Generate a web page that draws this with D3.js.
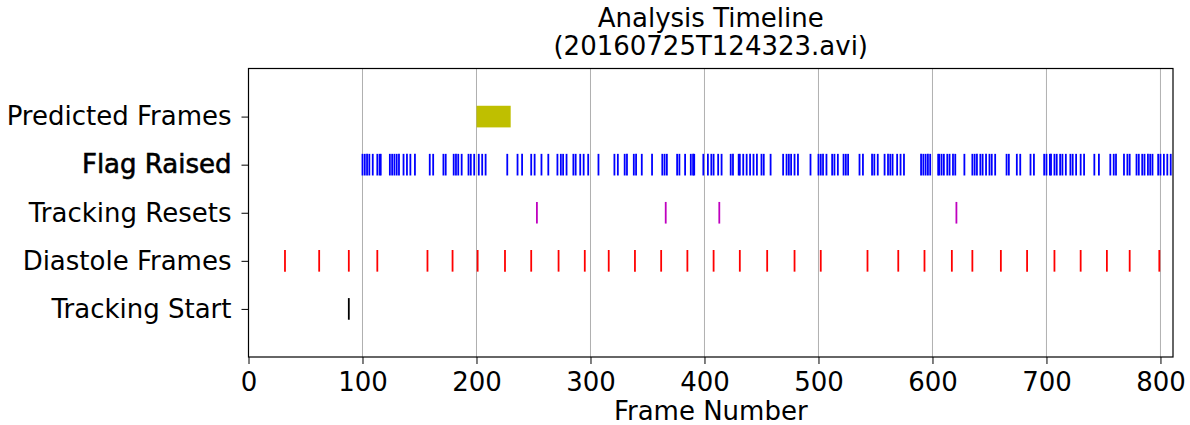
<!DOCTYPE html>
<html>
<head>
<meta charset="utf-8">
<script src="https://cdn.jsdelivr.net/npm/d3@7"></script>
<style>
  body { margin: 0; background: #fff; }
  text { font-family: "DejaVu Sans", sans-serif; fill: #000; }
</style>
</head>
<body>
<div id="chart"></div>
<script>
// row names, top to bottom
const rows = ["Predicted Frames", "Flag Raised", "Tracking Resets", "Diastole Frames", "Tracking Start"];

// event frames per row
const predictedRange = [200, 230];
const flagRaised = [100, 102, 104, 106, 109, 113, 115, 116, 124, 126, 128, 130, 132, 136, 139, 142, 146,
  159, 162, 171, 173, 180, 182, 184, 187, 193, 195, 198, 202, 205, 208, 227, 236, 240, 248, 251,
  257, 263, 271, 274, 276, 279, 285, 287, 291, 294, 298, 307, 321, 324, 330, 332, 338, 340, 345,
  354, 363, 365, 367, 376, 378, 383, 388, 390, 391, 399, 403, 406, 408, 412, 415, 423, 425, 430,
  431, 434, 437, 440, 443, 446, 450, 452, 458, 469, 472, 474, 476, 479, 482, 493, 500, 502, 504,
  507, 512, 514, 517, 522, 524, 526, 536, 539, 547, 549, 552, 558, 561, 563, 565, 569, 572, 575,
  590, 592, 594, 596, 598, 605, 606, 608, 610, 613, 615, 618, 620, 628, 635, 637, 639, 642, 644,
  647, 650, 652, 655, 665, 667, 674, 677, 686, 689, 698, 700, 703, 704, 707, 709, 712, 714, 717,
  721, 723, 726, 730, 733, 742, 746, 756, 759, 761, 768, 771, 773, 779, 781, 784, 786, 789, 791,
  793, 798, 800, 803, 806, 809];
const trackingResets = [253, 366, 413, 621];
const diastoleFrames = [32, 62, 88, 113, 157, 179, 201, 225, 248, 272, 295, 316, 339, 362, 385, 408,
  431, 455, 479, 502, 543, 570, 593, 617, 635, 660, 683, 707, 730, 753, 773, 799];
const trackingStart = [88];

const xTicks = [0, 100, 200, 300, 400, 500, 600, 700, 800];
const xMax = 811;

const width = 1190, height = 425;
const margin = { top: 68.5, right: 17, bottom: 68, left: 248.5 };
const fontSize = "26px";

const svg = d3.select("#chart").append("svg")
  .attr("width", width)
  .attr("height", height);

const x = d3.scaleLinear()
  .domain([0, xMax])
  .range([margin.left, width - margin.right]);

// rows sit at 1..5, axis runs 0..6
const y = d3.scaleLinear()
  .domain([0, rows.length + 1])
  .range([margin.top, height - margin.bottom]);

const rowY = name => y(rows.indexOf(name) + 1);
const halfLen = (y(0.45) - y(0)) / 2;

// gridlines
svg.append("g")
  .selectAll("line")
  .data(xTicks.filter(d => d > 0))
  .join("line")
  .attr("x1", d => x(d)).attr("x2", d => x(d))
  .attr("y1", margin.top).attr("y2", height - margin.bottom)
  .attr("stroke", "#b0b0b0")
  .attr("stroke-width", 1);

// predicted frames bar
svg.append("rect")
  .attr("x", x(predictedRange[0]))
  .attr("width", x(predictedRange[1]) - x(predictedRange[0]))
  .attr("y", rowY("Predicted Frames") - halfLen)
  .attr("height", halfLen * 2)
  .attr("fill", "#bfbf00");

function drawEvents(name, data, color) {
  svg.append("g")
    .selectAll("line")
    .data(data)
    .join("line")
    .attr("x1", d => x(d)).attr("x2", d => x(d))
    .attr("y1", rowY(name) - halfLen)
    .attr("y2", rowY(name) + halfLen)
    .attr("stroke", color)
    .attr("stroke-width", 1.8);
}

drawEvents("Flag Raised", flagRaised, "#0000ff");
drawEvents("Tracking Resets", trackingResets, "#bf00bf");
drawEvents("Diastole Frames", diastoleFrames, "#ff0000");
drawEvents("Tracking Start", trackingStart, "#000000");

// frame
svg.append("rect")
  .attr("x", margin.left).attr("y", margin.top)
  .attr("width", width - margin.right - margin.left)
  .attr("height", height - margin.bottom - margin.top)
  .attr("fill", "none")
  .attr("stroke", "#000")
  .attr("stroke-width", 1.2);

// axes
const xAxis = svg.append("g")
  .attr("transform", `translate(0,${height - margin.bottom})`)
  .call(d3.axisBottom(x).tickValues(xTicks).tickSize(7).tickPadding(9));
xAxis.select(".domain").remove();
xAxis.selectAll("text").style("font-size", fontSize).attr("font-family", null);

const yAxis = svg.append("g")
  .attr("transform", `translate(${margin.left},0)`)
  .call(d3.axisLeft(y).tickValues(d3.range(1, rows.length + 1)).tickFormat(d => rows[d - 1]).tickSize(7).tickPadding(10));
yAxis.select(".domain").remove();
yAxis.selectAll("text").style("font-size", fontSize).attr("font-family", null)
  .filter(d => rows[d - 1] === "Flag Raised")
  .style("stroke", "#000").style("stroke-width", 0.6);

svg.append("text")
  .attr("x", (margin.left + width - margin.right) / 2)
  .attr("y", 420)
  .attr("text-anchor", "middle")
  .style("font-size", fontSize)
  .text("Frame Number");

const title = svg.append("text")
  .attr("text-anchor", "middle")
  .style("font-size", fontSize);
title.append("tspan").attr("x", (margin.left + width - margin.right) / 2).attr("y", 27).text("Analysis Timeline");
title.append("tspan").attr("x", (margin.left + width - margin.right) / 2).attr("y", 55).text("(20160725T124323.avi)");
</script>
</body>
</html>
